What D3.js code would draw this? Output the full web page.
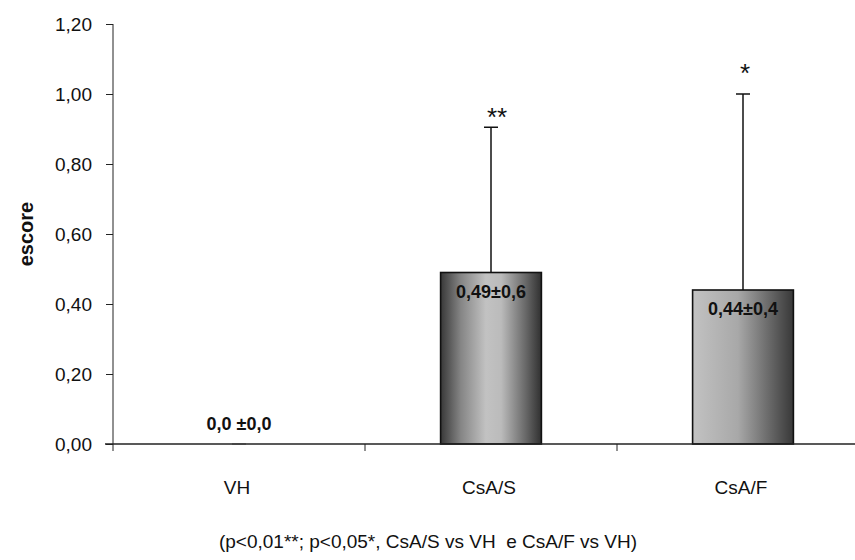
<!DOCTYPE html>
<html>
<head>
<meta charset="utf-8">
<script src="https://cdn.jsdelivr.net/npm/d3@7"></script>
<style>
  body { margin: 0; background: #fff; }
  text { font-family: "Liberation Sans", Arial, sans-serif; }
</style>
</head>
<body>
<div id="chart"></div>
<script>
// dados do gráfico
const grupos = ["VH", "CsA/S", "CsA/F"];
const medias = [0.0, 0.49, 0.44];
const erros = [0.0, 0.415, 0.56];
const rotulos = ["0,0 ±0,0", "0,49±0,6", "0,44±0,4"];
const signif = ["", "**", "*"];
const yTicks = [0, 0.2, 0.4, 0.6, 0.8, 1.0, 1.2];

const W = 855, H = 560;
const margin = { top: 24, right: 0, bottom: 116, left: 113 };
const height = H - margin.top - margin.bottom;

const svg = d3.select("#chart")
    .append("svg")
    .attr("width", W)
    .attr("height", H);

// gradientes das barras
const defs = svg.append("defs");
const g1 = defs.append("linearGradient").attr("id", "cilindro");
[[0, "#383838"], [0.2, "#858585"], [0.45, "#c2c2c2"], [0.6, "#bbbbbb"], [0.85, "#666"], [1, "#303030"]]
    .forEach(s => g1.append("stop").attr("offset", s[0]).attr("stop-color", s[1]));
const g2 = defs.append("linearGradient").attr("id", "degrade");
[[0, "#c2c2c2"], [0.45, "#a8a8a8"], [1, "#383838"]]
    .forEach(s => g2.append("stop").attr("offset", s[0]).attr("stop-color", s[1]));
const fills = ["#999", "url(#cilindro)", "url(#degrade)"];

const g = svg.append("g")
    .attr("transform", "translate(" + margin.left + "," + margin.top + ")");

let x = d3.scaleBand()
    .domain(grupos)
    .range([0, 756])
    .paddingInner(0.6)
    .paddingOuter(0.3);

let y = d3.scaleLinear()
    .domain([0, 1.2])
    .range([height, 0]);

// eixo Y
const fmt = d => d3.format(".2f")(d).replace(".", ",");
const yAxis = g.append("g")
    .call(d3.axisLeft(y).tickValues(yTicks).tickFormat(fmt).tickSize(7).tickPadding(14));
yAxis.select(".domain").attr("d", "M0,0V" + (height + 7));
yAxis.selectAll("line, path").attr("stroke", "#222");
yAxis.selectAll("text").attr("font-size", 19).attr("fill", "#111")
    .attr("font-family", "'Liberation Sans', Arial, sans-serif");

// barras
g.selectAll(".bar")
    .data(grupos)
    .enter()
    .append("rect")
    .attr("x", d => x(d))
    .attr("y", (d, i) => y(medias[i]))
    .attr("width", x.bandwidth())
    .attr("height", (d, i) => height - y(medias[i]))
    .attr("fill", (d, i) => fills[i])
    .attr("stroke", "#111")
    .attr("stroke-width", (d, i) => medias[i] > 0 ? 1.6 : 0);

// barras de erro
const cx = d => x(d) + x.bandwidth() / 2;
g.selectAll(".err")
    .data(grupos)
    .enter()
    .append("line")
    .attr("x1", cx).attr("x2", cx)
    .attr("y1", (d, i) => y(medias[i]))
    .attr("y2", (d, i) => y(medias[i] + erros[i]))
    .attr("stroke", "#111")
    .attr("stroke-width", 1.5);
g.selectAll(".cap")
    .data(grupos)
    .enter()
    .append("line")
    .attr("x1", d => cx(d) - 7).attr("x2", d => cx(d) + 7)
    .attr("y1", (d, i) => y(medias[i] + erros[i]))
    .attr("y2", (d, i) => y(medias[i] + erros[i]))
    .attr("stroke", (d, i) => erros[i] > 0 ? "#111" : "#999")
    .attr("stroke-width", 1.5);

// eixo X
const xAxis = g.append("g")
    .attr("transform", "translate(0," + height + ")");
xAxis.append("line")
    .attr("x1", -8).attr("x2", W - margin.left)
    .attr("stroke", "#222").attr("stroke-width", 1.5);
xAxis.selectAll(".tk")
    .data(grupos.slice(1))
    .enter()
    .append("line")
    .attr("x1", d => x(d) - x.step() * x.paddingInner() / 2)
    .attr("x2", d => x(d) - x.step() * x.paddingInner() / 2)
    .attr("y1", 0).attr("y2", 7)
    .attr("stroke", "#222");
xAxis.selectAll(".lbl")
    .data(grupos)
    .enter()
    .append("text")
    .attr("x", d => cx(d) - 2)
    .attr("y", 50)
    .attr("text-anchor", "middle")
    .attr("font-size", 19)
    .attr("fill", "#111")
    .text(d => d);

// rótulos de valor
g.selectAll(".val")
    .data(grupos)
    .enter()
    .append("text")
    .attr("x", cx)
    .attr("y", (d, i) => medias[i] > 0 ? y(medias[i]) + 25 : y(0) - 14)
    .attr("text-anchor", "middle")
    .attr("font-size", 18)
    .attr("font-weight", "bold")
    .attr("fill", "#111")
    .text((d, i) => rotulos[i]);

// asteriscos
const sigOffset = [0, 0, 11];
g.selectAll(".sig")
    .data(grupos)
    .enter()
    .append("text")
    .attr("x", (d, i) => cx(d) + (i === 1 ? 6 : 2))
    .attr("y", (d, i) => y(medias[i] + erros[i]) - 1 - sigOffset[i])
    .attr("text-anchor", "middle")
    .attr("font-size", 26)
    .attr("fill", "#111")
    .text((d, i) => signif[i]);

// título do eixo Y
svg.append("text")
    .attr("transform", "translate(33," + (margin.top + height / 2) + ") rotate(-90)")
    .attr("text-anchor", "middle")
    .attr("font-size", 20)
    .attr("font-weight", "bold")
    .attr("fill", "#111")
    .text("escore");

// nota de rodapé
svg.append("text")
    .attr("x", 428)
    .attr("y", 548)
    .attr("text-anchor", "middle")
    .attr("font-size", 19)
    .attr("fill", "#111")
    .style("white-space", "pre")
    .text("(p<0,01**; p<0,05*, CsA/S vs VH  e CsA/F vs VH)");
</script>
</body>
</html>
